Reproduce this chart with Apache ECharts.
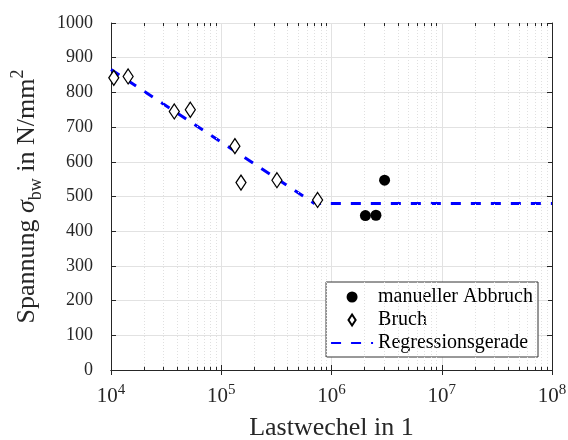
<!DOCTYPE html>
<html><head><meta charset="utf-8">
<script src="https://cdn.jsdelivr.net/npm/echarts@6/dist/echarts.min.js"></script>
<style>html,body{margin:0;padding:0;background:#fff}#c{width:568px;height:440px}</style>
</head><body><div id="c"></div><script>
// Data
const bruchX = [10600, 14300, 37500, 52400, 133000, 151000, 320000, 748000];
const bruchY = [842, 846, 745, 750, 645, 540, 547, 490];
const abbruchX = [2030000, 2530000, 3030000];
const abbruchY = [445, 446, 547];
const regX = [10000, 700000, 100000000];
const regY = [866, 480, 480];
const xTicks = [10000, 100000, 1000000, 10000000, 100000000];
const yTicks = [0, 100, 200, 300, 400, 500, 600, 700, 800, 900, 1000];
const minorMult = [2, 3, 4, 5, 6, 7, 8, 9];
const seriesNames = ['manueller Abbruch', 'Bruch', 'Regressionsgerade'];

const FONT = 'Liberation Serif';
const AX = '#262626';
const zip = (a, b) => a.map((v, i) => [v, b[i]]);

const minorVals = [];
for (let k = 0; k < xTicks.length - 1; k++) minorMult.forEach(m => minorVals.push(xTicks[k] * m));

const gridLines = minorVals.map(v => ({ xAxis: v }));
const tickLines = [];
minorVals.forEach(v => {
  tickLines.push([{ coord: [v, 0] }, { coord: [v, 9] }]);
  tickLines.push([{ coord: [v, 1000] }, { coord: [v, 991] }]);
});

const chart = echarts.init(document.getElementById('c'), null, { renderer: 'canvas' });
const xBase = {
  type: 'log', logBase: 10, min: xTicks[0], max: xTicks[xTicks.length - 1],
  axisLine: { show: true, lineStyle: { color: AX, width: 1 } },
  axisTick: { show: true, inside: true, length: 5, lineStyle: { color: AX } },
  minorTick: { show: false }
};
const yBase = {
  type: 'value', min: yTicks[0], max: yTicks[yTicks.length - 1], interval: 100,
  axisLine: { show: true, lineStyle: { color: AX, width: 1 } },
  axisTick: { show: true, inside: true, length: 5, lineStyle: { color: AX } }
};
const DIAMOND = 'path://M0,-10L6.5,0L0,10L-6.5,0Z';
chart.setOption({
  animation: false,
  backgroundColor: '#fff',
  grid: { left: 111, right: 16, top: 23, bottom: 70, containLabel: false, outerBoundsMode: 'none' },
  xAxis: [
    Object.assign({}, xBase, {
      position: 'bottom',
      name: 'Lastwechel in 1', nameLocation: 'middle', nameGap: 45,
      nameTextStyle: { fontFamily: FONT, fontSize: 26, color: AX },
      splitLine: { show: true, lineStyle: { color: '#e2e2e2', width: 1 } },
      axisLabel: {
        show: true, margin: 13, color: AX, fontFamily: FONT,
        formatter: v => '{b|10}{s|' + Math.round(Math.log10(v)) + '}',
        rich: {
          b: { fontFamily: FONT, fontSize: 21, color: AX, lineHeight: 24, verticalAlign: 'bottom' },
          s: { fontFamily: FONT, fontSize: 15, color: AX, lineHeight: 24, verticalAlign: 'top' }
        }
      }
    }),
    Object.assign({}, xBase, {
      position: 'top', axisLabel: { show: false }, splitLine: { show: false }
    })
  ],
  yAxis: [
    Object.assign({}, yBase, {
      position: 'left',
      name: '{n|Spannung }{i|σ}{sub|bw}{n| in N/mm}{sup|2}',
      nameLocation: 'middle', nameGap: 66,
      nameTextStyle: {
        rich: {
          n: { fontFamily: FONT, fontSize: 26, color: AX, lineHeight: 36 },
          i: { fontFamily: FONT, fontSize: 26, fontStyle: 'italic', color: AX, lineHeight: 36 },
          sub: { fontFamily: FONT, fontSize: 18, color: AX, lineHeight: 36, verticalAlign: 'bottom' },
          sup: { fontFamily: FONT, fontSize: 18, color: AX, lineHeight: 36, verticalAlign: 'top' }
        }
      },
      splitLine: { show: true, lineStyle: { color: '#e2e2e2', width: 1 } },
      axisLabel: { show: true, margin: 18, color: AX, fontFamily: FONT, fontSize: 18, formatter: v => String(v) }
    }),
    Object.assign({}, yBase, {
      position: 'right', axisLabel: { show: false }, splitLine: { show: false }
    })
  ],
  legend: {
    data: [
      { name: seriesNames[0] },
      { name: seriesNames[1], icon: DIAMOND },
      { name: seriesNames[2], itemStyle: { opacity: 0 } }
    ],
    orient: 'vertical', right: 30, bottom: 83,
    backgroundColor: '#fff', borderColor: '#333', borderWidth: 1,
    padding: [5, 5, 4, 4], itemGap: 3, itemWidth: 42, itemHeight: 11,
    symbolKeepAspect: true,
    textStyle: { fontFamily: FONT, fontSize: 20, color: '#000' }
  },
  series: [
    {
      name: '_grid', type: 'line', data: [], silent: true, z: 1,
      markLine: {
        silent: true, symbol: 'none', animation: false,
        label: { show: false },
        lineStyle: { color: '#e0e0e0', type: [1, 2], width: 1 },
        emphasis: { disabled: true },
        data: gridLines
      }
    },
    {
      name: '_ticks', type: 'line', data: [], silent: true, z: 3,
      markLine: {
        silent: true, symbol: 'none', animation: false,
        label: { show: false },
        lineStyle: { color: AX, type: 'solid', width: 1 },
        emphasis: { disabled: true },
        data: tickLines
      }
    },
    {
      name: seriesNames[2], type: 'line', data: zip(regX, regY),
      showSymbol: false, symbol: 'none', z: 4,
      lineStyle: { color: '#0000ff', width: 3, type: [10, 10] },
      itemStyle: { color: '#0000ff' }
    },
    {
      name: seriesNames[0], type: 'scatter', data: zip(abbruchX, abbruchY),
      symbol: 'circle', symbolSize: 11, z: 5,
      itemStyle: { color: '#000', opacity: 1 }
    },
    {
      name: seriesNames[1], type: 'scatter', data: zip(bruchX, bruchY),
      symbol: 'diamond', symbolSize: [10, 15], z: 5,
      itemStyle: { color: '#fff', borderColor: '#000', borderWidth: 1.3, opacity: 1 }
    }
  ]
});
</script></body></html>
